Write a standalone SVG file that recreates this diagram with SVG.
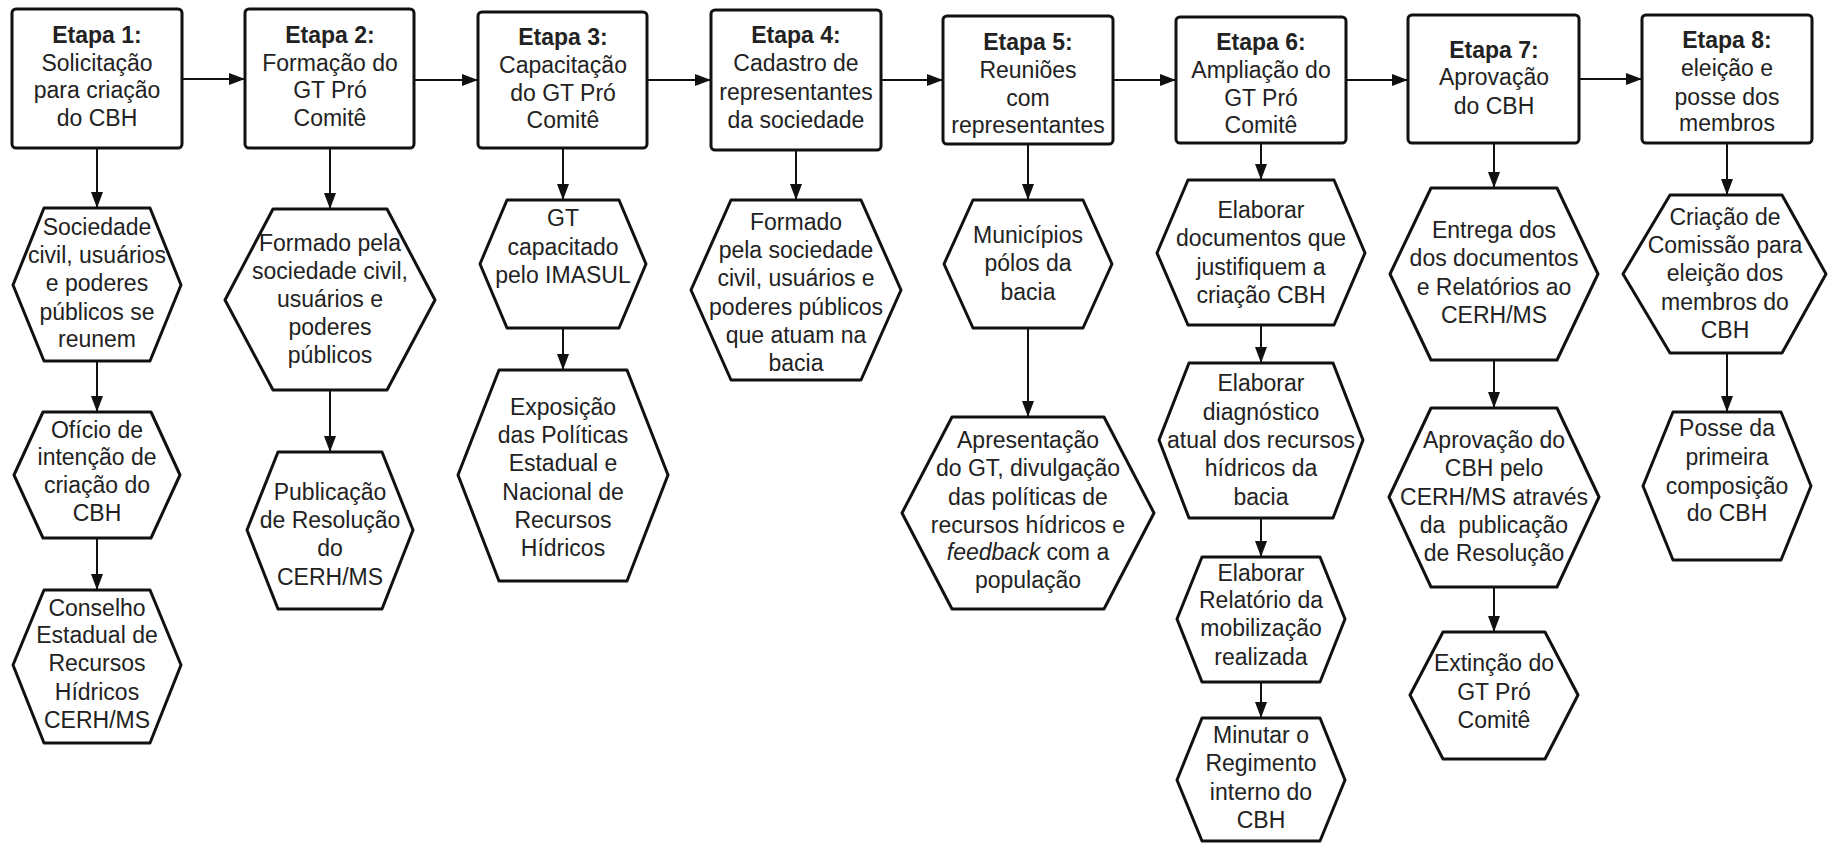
<svg xmlns="http://www.w3.org/2000/svg" width="1829" height="844" viewBox="0 0 1829 844">
<defs>
<marker id="ah" markerUnits="userSpaceOnUse" markerWidth="16" markerHeight="12" refX="16" refY="6" orient="auto">
<path d="M0,0 L16,6 L0,12 z" fill="#111"/>
</marker>
<style>
.box{fill:#fff;stroke:#111;stroke-width:3}
.hex{fill:#fff;stroke:#111;stroke-width:3;stroke-linejoin:round}
.c{stroke:#111;stroke-width:2;fill:none;marker-end:url(#ah)}
text{font-family:"Liberation Sans",Arial,sans-serif;font-size:23px;fill:#222;text-anchor:middle}
.b{font-weight:bold}
</style>
</defs>
<rect width="1829" height="844" fill="#fff"/>
<g id="connectors">
<line class="c" x1="182" y1="79" x2="245" y2="79"/>
<line class="c" x1="414" y1="80" x2="478" y2="80"/>
<line class="c" x1="647" y1="80" x2="711" y2="80"/>
<line class="c" x1="881" y1="80" x2="943" y2="80"/>
<line class="c" x1="1113" y1="80" x2="1176" y2="80"/>
<line class="c" x1="1346" y1="80" x2="1408" y2="80"/>
<line class="c" x1="1579" y1="79" x2="1642" y2="79"/>
<line class="c" x1="97" y1="148" x2="97" y2="208"/>
<line class="c" x1="97" y1="361" x2="97" y2="412"/>
<line class="c" x1="97" y1="538" x2="97" y2="590"/>
<line class="c" x1="330" y1="148" x2="330" y2="209"/>
<line class="c" x1="330" y1="390" x2="330" y2="452"/>
<line class="c" x1="563" y1="148" x2="563" y2="200"/>
<line class="c" x1="563" y1="328" x2="563" y2="370"/>
<line class="c" x1="796" y1="150" x2="796" y2="200"/>
<line class="c" x1="1028" y1="145" x2="1028" y2="200"/>
<line class="c" x1="1028" y1="328" x2="1028" y2="417"/>
<line class="c" x1="1261" y1="143" x2="1261" y2="180"/>
<line class="c" x1="1261" y1="325" x2="1261" y2="363"/>
<line class="c" x1="1261" y1="518" x2="1261" y2="557"/>
<line class="c" x1="1261" y1="682" x2="1261" y2="718"/>
<line class="c" x1="1494" y1="143" x2="1494" y2="188"/>
<line class="c" x1="1494" y1="360" x2="1494" y2="408"/>
<line class="c" x1="1494" y1="587" x2="1494" y2="632"/>
<line class="c" x1="1727" y1="143" x2="1727" y2="195"/>
<line class="c" x1="1727" y1="353" x2="1727" y2="412"/>
</g>
<g id="etapa1"><rect class="box" x="12" y="9" width="170" height="139" rx="4"/>
<text class="b" x="97" y="43">Etapa 1:</text><text x="97" y="71">Solicitação</text><text x="97" y="98">para criação</text><text x="97" y="126">do CBH</text></g>
<g id="etapa2"><rect class="box" x="245" y="9" width="169" height="139" rx="4"/>
<text class="b" x="330" y="43">Etapa 2:</text><text x="330" y="71">Formação do</text><text x="330" y="98">GT Pró</text><text x="330" y="126">Comitê</text></g>
<g id="etapa3"><rect class="box" x="478" y="12" width="169" height="136" rx="4"/>
<text class="b" x="563" y="45">Etapa 3:</text><text x="563" y="73">Capacitação</text><text x="563" y="101">do GT Pró</text><text x="563" y="128">Comitê</text></g>
<g id="etapa4"><rect class="box" x="711" y="10" width="170" height="140" rx="4"/>
<text class="b" x="796" y="43">Etapa 4:</text><text x="796" y="71">Cadastro de</text><text x="796" y="100">representantes</text><text x="796" y="128">da sociedade</text></g>
<g id="etapa5"><rect class="box" x="943" y="16" width="170" height="128" rx="4"/>
<text class="b" x="1028" y="50">Etapa 5:</text><text x="1028" y="78">Reuniões</text><text x="1028" y="106">com</text><text x="1028" y="133">representantes</text></g>
<g id="etapa6"><rect class="box" x="1176" y="17" width="170" height="126" rx="4"/>
<text class="b" x="1261" y="50">Etapa 6:</text><text x="1261" y="78">Ampliação do</text><text x="1261" y="106">GT Pró</text><text x="1261" y="133">Comitê</text></g>
<g id="etapa7"><rect class="box" x="1408" y="15" width="171" height="128" rx="4"/>
<text class="b" x="1494" y="58">Etapa 7:</text><text x="1494" y="85">Aprovação</text><text x="1494" y="114">do CBH</text></g>
<g id="etapa8"><rect class="box" x="1642" y="15" width="170" height="128" rx="4"/>
<text class="b" x="1727" y="48">Etapa 8:</text><text x="1727" y="76">eleição e</text><text x="1727" y="105">posse dos</text><text x="1727" y="131">membros</text></g>
<g id="h1a"><polygon class="hex" points="13,285 44,208 150,208 181,285 150,361 44,361"/>
<text x="97" y="235">Sociedade</text><text x="97" y="263">civil, usuários</text><text x="97" y="291">e poderes</text><text x="97" y="320">públicos se</text><text x="97" y="347">reunem</text></g>
<g id="h1b"><polygon class="hex" points="14,475 43,412 151,412 180,475 151,538 43,538"/>
<text x="97" y="438">Ofício de</text><text x="97" y="465">intenção de</text><text x="97" y="493">criação do</text><text x="97" y="521">CBH</text></g>
<g id="h1c"><polygon class="hex" points="13,665 44,590 150,590 181,665 150,743 44,743"/>
<text x="97" y="616">Conselho</text><text x="97" y="643">Estadual de</text><text x="97" y="671">Recursos</text><text x="97" y="700">Hídricos</text><text x="97" y="728">CERH/MS</text></g>
<g id="h2a"><polygon class="hex" points="225,300 273,209 387,209 435,300 387,390 273,390"/>
<text x="330" y="251">Formado pela</text><text x="330" y="279">sociedade civil,</text><text x="330" y="307">usuários e</text><text x="330" y="335">poderes</text><text x="330" y="363">públicos</text></g>
<g id="h2b"><polygon class="hex" points="247,530 278,452 382,452 413,530 382,609 278,609"/>
<text x="330" y="500">Publicação</text><text x="330" y="528">de Resolução</text><text x="330" y="556">do</text><text x="330" y="585">CERH/MS</text></g>
<g id="h3a"><polygon class="hex" points="480,264 507,200 619,200 646,264 619,328 507,328"/>
<text x="563" y="226">GT</text><text x="563" y="255">capacitado</text><text x="563" y="283">pelo IMASUL</text></g>
<g id="h3b"><polygon class="hex" points="458,475 499,370 627,370 668,475 627,581 499,581"/>
<text x="563" y="415">Exposição</text><text x="563" y="443">das Políticas</text><text x="563" y="471">Estadual e</text><text x="563" y="500">Nacional de</text><text x="563" y="528">Recursos</text><text x="563" y="556">Hídricos</text></g>
<g id="h4"><polygon class="hex" points="691,290 731,200 861,200 901,290 861,380 731,380"/>
<text x="796" y="230">Formado</text><text x="796" y="258">pela sociedade</text><text x="796" y="286">civil, usuários e</text><text x="796" y="315">poderes públicos</text><text x="796" y="343">que atuam na</text><text x="796" y="371">bacia</text></g>
<g id="h5a"><polygon class="hex" points="944,264 973,200 1083,200 1112,264 1083,328 973,328"/>
<text x="1028" y="243">Municípios</text><text x="1028" y="271">pólos da</text><text x="1028" y="300">bacia</text></g>
<g id="h5b"><polygon class="hex" points="902,513 952,417 1104,417 1154,513 1104,609 952,609"/>
<text x="1028" y="448">Apresentação</text><text x="1028" y="476">do GT, divulgação</text><text x="1028" y="505">das políticas de</text><text x="1028" y="533">recursos hídricos e</text><text x="1028" y="560"><tspan font-style="italic">feedback</tspan> com a</text><text x="1028" y="588">população</text></g>
<g id="h6a"><polygon class="hex" points="1157,253 1188,180 1334,180 1365,253 1334,325 1188,325"/>
<text x="1261" y="218">Elaborar</text><text x="1261" y="246">documentos que</text><text x="1261" y="275">justifiquem a</text><text x="1261" y="303">criação CBH</text></g>
<g id="h6b"><polygon class="hex" points="1159,440 1189,363 1333,363 1363,440 1333,518 1189,518"/>
<text x="1261" y="391">Elaborar</text><text x="1261" y="420">diagnóstico</text><text x="1261" y="448">atual dos recursos</text><text x="1261" y="476">hídricos da</text><text x="1261" y="505">bacia</text></g>
<g id="h6c"><polygon class="hex" points="1177,619 1202,557 1320,557 1345,619 1320,682 1202,682"/>
<text x="1261" y="581">Elaborar</text><text x="1261" y="608">Relatório da</text><text x="1261" y="636">mobilização</text><text x="1261" y="665">realizada</text></g>
<g id="h6d"><polygon class="hex" points="1177,780 1202,718 1320,718 1345,780 1320,841 1202,841"/>
<text x="1261" y="743">Minutar o</text><text x="1261" y="771">Regimento</text><text x="1261" y="800">interno do</text><text x="1261" y="828">CBH</text></g>
<g id="h7a"><polygon class="hex" points="1390,274 1431,188 1557,188 1598,274 1557,360 1431,360"/>
<text x="1494" y="238">Entrega dos</text><text x="1494" y="266">dos documentos</text><text x="1494" y="295">e Relatórios ao</text><text x="1494" y="323">CERH/MS</text></g>
<g id="h7b"><polygon class="hex" points="1389,497 1431,408 1557,408 1599,497 1557,587 1431,587"/>
<text x="1494" y="448">Aprovação do</text><text x="1494" y="476">CBH pelo</text><text x="1494" y="505">CERH/MS através</text><text x="1494" y="533" style="white-space:pre">da  publicação</text><text x="1494" y="561">de Resolução</text></g>
<g id="h7c"><polygon class="hex" points="1410,695 1443,632 1545,632 1578,695 1545,759 1443,759"/>
<text x="1494" y="671">Extinção do</text><text x="1494" y="700">GT Pró</text><text x="1494" y="728">Comitê</text></g>
<g id="h8a"><polygon class="hex" points="1623,274 1670,195 1782,195 1826,274 1782,353 1670,353"/>
<text x="1725" y="225">Criação de</text><text x="1725" y="253">Comissão para</text><text x="1725" y="281">eleição dos</text><text x="1725" y="310">membros do</text><text x="1725" y="338">CBH</text></g>
<g id="h8b"><polygon class="hex" points="1643,486 1673,412 1781,412 1811,486 1781,560 1673,560"/>
<text x="1727" y="436">Posse da</text><text x="1727" y="465">primeira</text><text x="1727" y="494">composição</text><text x="1727" y="521">do CBH</text></g>
</svg>
